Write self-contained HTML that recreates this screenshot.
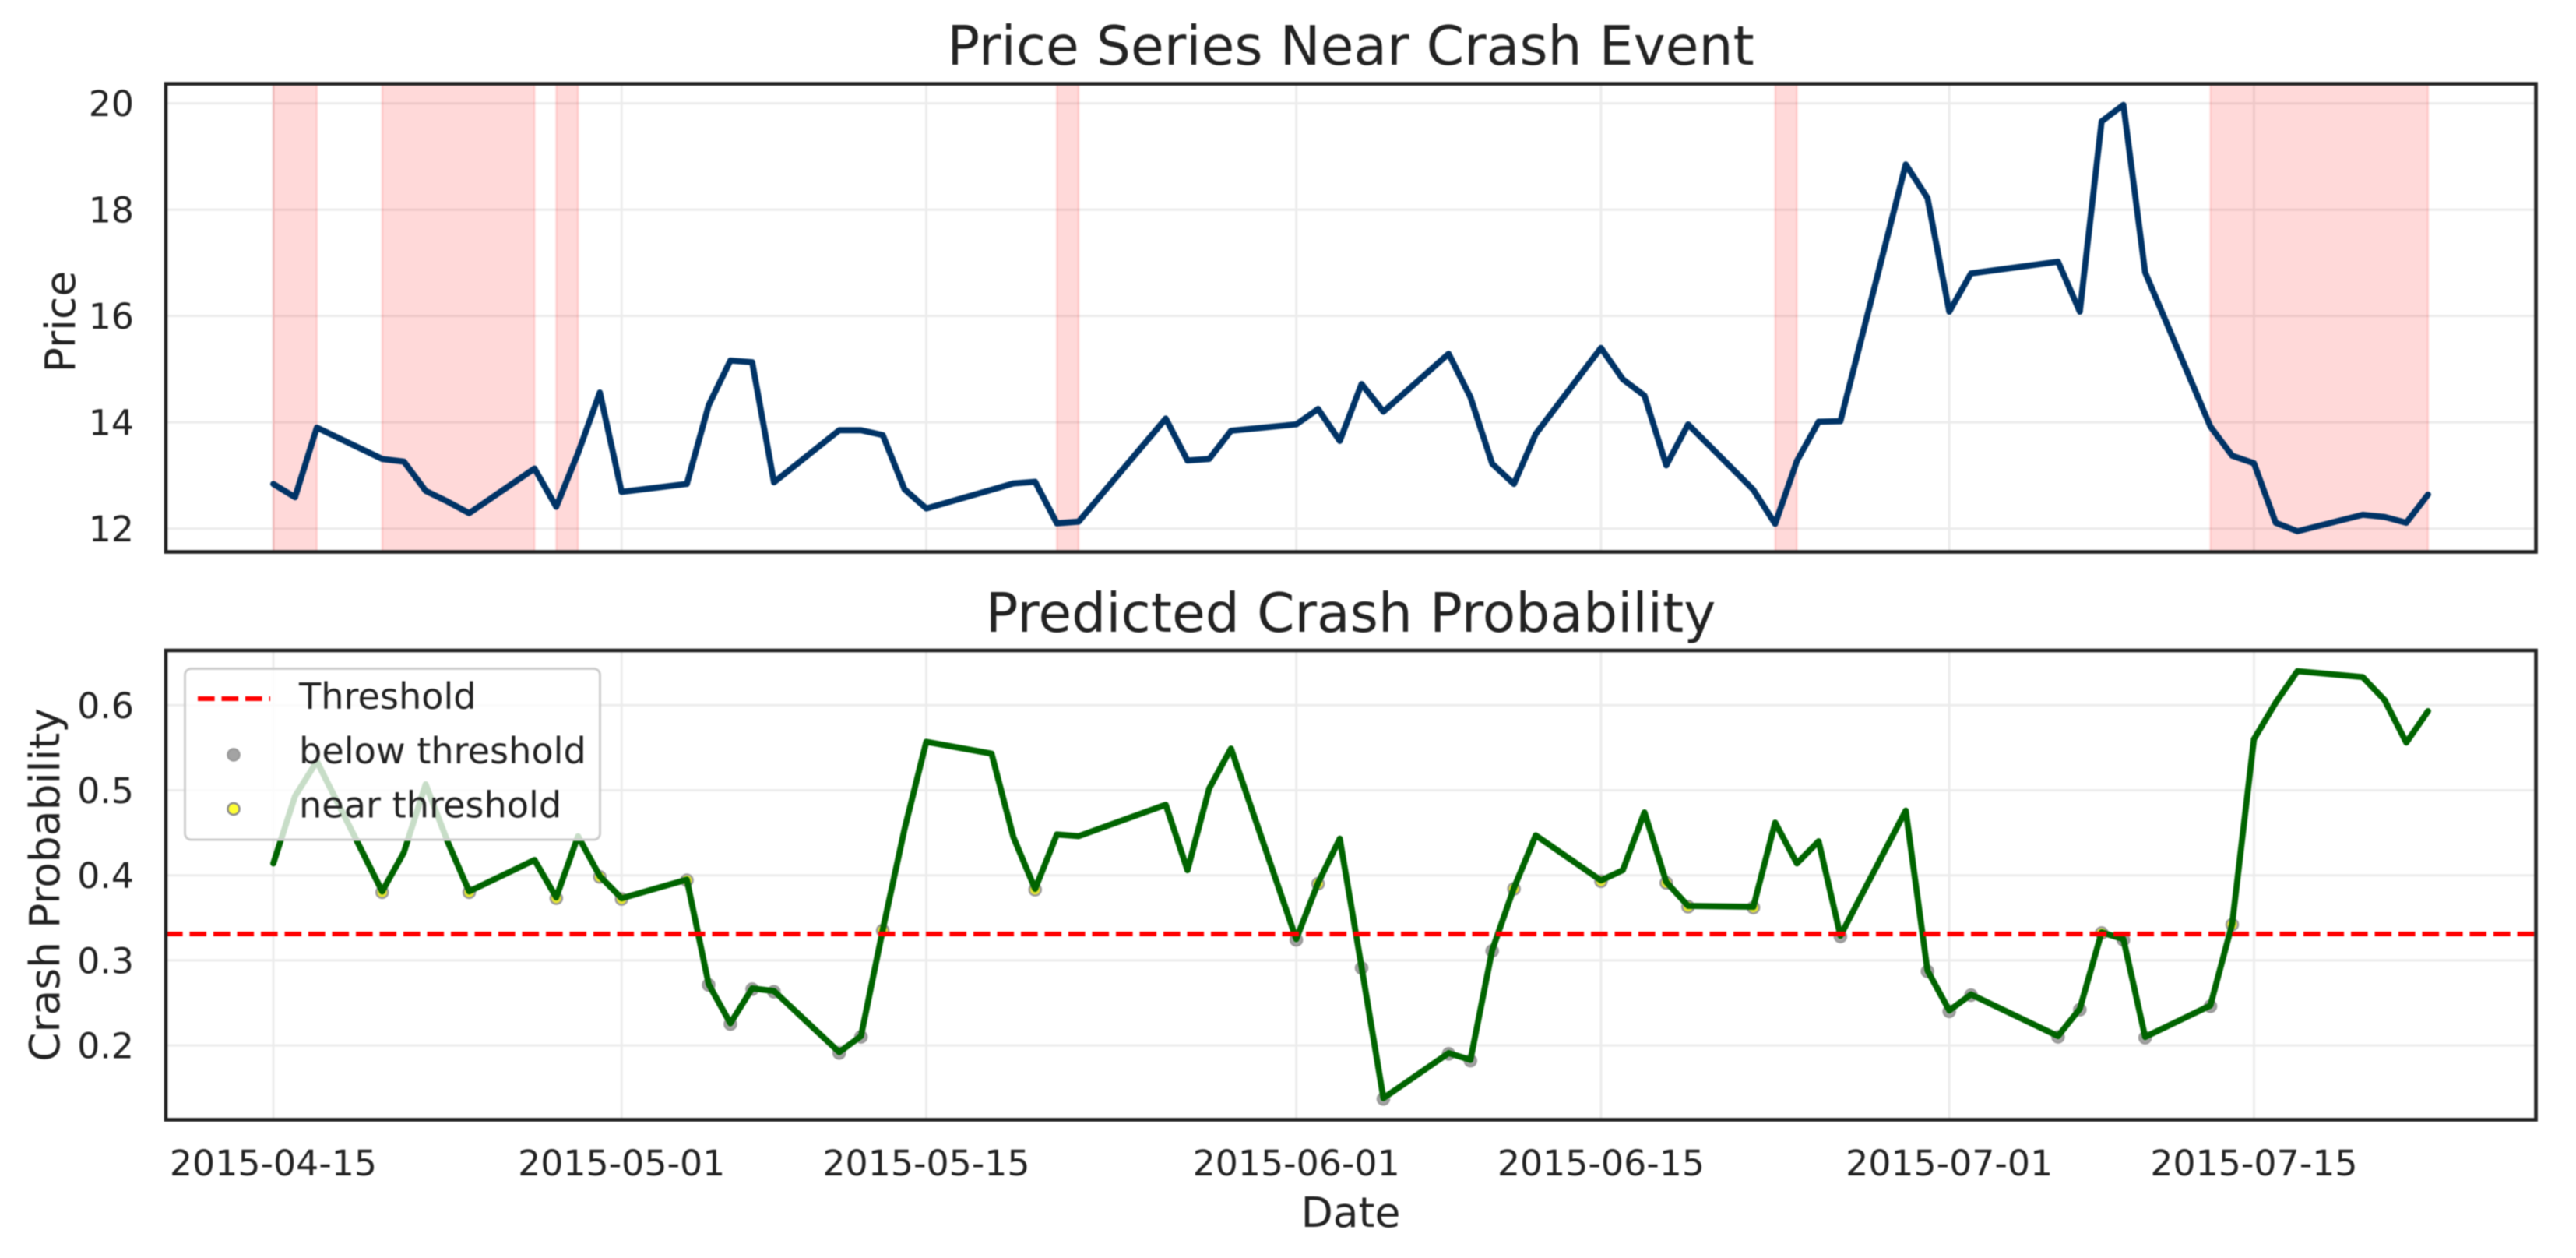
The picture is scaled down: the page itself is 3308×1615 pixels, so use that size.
<!DOCTYPE html>
<html lang="en">
<head>
<meta charset="utf-8">
<title>Price Series Near Crash Event</title>
<style>
html,body{margin:0;padding:0;background:#fff;}
body{width:3308px;height:1615px;overflow:hidden;}
svg{display:block;filter:blur(0.9px);}
text{font-family:"DejaVu Sans","Liberation Sans",sans-serif;fill:#222222;}
.tick{font-size:45.8px;}
.legend-text{font-size:46.2px;}
.label{font-size:53.5px;}
.title{font-size:69.5px;}
</style>
</head>
<body>
<svg id="chart" xmlns="http://www.w3.org/2000/svg" width="3308" height="1615" viewBox="0 0 3308 1615">
  <rect x="0" y="0" width="3308" height="1615" fill="#ffffff"/>
  <g id="price-panel"></g>
  <g id="prob-panel"></g>
  <text class="title" x="1734.5" y="83" text-anchor="middle">Price Series Near Crash Event</text>
  <text class="title" x="1734.5" y="811" text-anchor="middle">Predicted Crash Probability</text>
  <text class="label" transform="translate(96,413) rotate(-90)" text-anchor="middle">Price</text>
  <text class="label" transform="translate(76,1136) rotate(-90)" text-anchor="middle">Crash Probability</text>
  <text class="label" x="1734.5" y="1575" text-anchor="middle">Date</text>
</svg>
<script>
const dates = [
  '2015-04-15','2015-04-16','2015-04-17',
  '2015-04-20','2015-04-21','2015-04-22','2015-04-23','2015-04-24',
  '2015-04-27','2015-04-28','2015-04-29','2015-04-30','2015-05-01',
  '2015-05-04','2015-05-05','2015-05-06','2015-05-07','2015-05-08',
  '2015-05-11','2015-05-12','2015-05-13','2015-05-14','2015-05-15',
  '2015-05-18','2015-05-19','2015-05-20','2015-05-21','2015-05-22',
  '2015-05-26','2015-05-27','2015-05-28','2015-05-29',
  '2015-06-01','2015-06-02','2015-06-03','2015-06-04','2015-06-05',
  '2015-06-08','2015-06-09','2015-06-10','2015-06-11','2015-06-12',
  '2015-06-15','2015-06-16','2015-06-17','2015-06-18','2015-06-19',
  '2015-06-22','2015-06-23','2015-06-24','2015-06-25','2015-06-26',
  '2015-06-29','2015-06-30','2015-07-01','2015-07-02',
  '2015-07-06','2015-07-07','2015-07-08','2015-07-09','2015-07-10',
  '2015-07-13','2015-07-14','2015-07-15','2015-07-16','2015-07-17',
  '2015-07-20','2015-07-21','2015-07-22','2015-07-23'
];
const prices = [
  12.84,12.59,13.90,
  13.31,13.26,12.71,12.51,12.29,
  13.13,12.41,13.42,14.56,12.69,
  12.84,14.32,15.16,15.13,12.87,
  13.85,13.85,13.76,12.74,12.38,
  12.73,12.85,12.88,12.10,12.13,
  14.07,13.28,13.31,13.84,
  13.96,14.25,13.65,14.72,14.20,
  15.29,14.47,13.22,12.84,13.78,
  15.40,14.81,14.50,13.19,13.96,
  12.73,12.09,13.27,14.01,14.02,
  18.85,18.22,16.08,16.80,
  17.02,16.08,19.66,19.97,16.82,
  13.92,13.37,13.23,12.11,11.95,
  12.26,12.22,12.11,12.64
];
const probabilities = [
  0.414,0.493,0.534,
  0.381,0.427,0.507,0.440,0.381,
  0.418,0.374,0.446,0.399,0.373,
  0.395,0.272,0.226,0.267,0.264,
  0.192,0.211,0.336,0.454,0.557,
  0.543,0.445,0.384,0.448,0.446,
  0.483,0.406,0.502,0.549,
  0.325,0.391,0.443,0.292,0.138,
  0.191,0.183,0.312,0.385,0.447,
  0.394,0.406,0.474,0.392,0.364,
  0.363,0.462,0.414,0.440,0.329,
  0.476,0.288,0.241,0.260,
  0.211,0.243,0.333,0.325,0.210,
  0.247,0.343,0.560,0.603,0.640,
  0.633,0.606,0.556,0.593
];
const crashStarts = ['2015-04-15','2015-04-20','2015-04-28','2015-05-21','2015-06-23','2015-07-13'];
const crashEnds = ['2015-04-17','2015-04-27','2015-04-29','2015-05-22','2015-06-24','2015-07-23'];
const threshold = 0.331;
const nearCeiling = 0.40;
const dateTicks = ['2015-04-15','2015-05-01','2015-05-15','2015-06-01','2015-06-15','2015-07-01','2015-07-15'];
const priceTicks = [12,14,16,18,20];
const probTicks = [0.2,0.3,0.4,0.5,0.6];

const SVG_NS = 'http://www.w3.org/2000/svg';
const plotLeft = 213, plotRight = 3256.5;
const priceTop = 107.6, priceBottom = 708.5;
const probTop = 835, probBottom = 1437.5;
const DAY_MS = 86400000;
const originMs = Date.parse('2015-04-15T00:00:00Z');

function xScale(date) {
  const days = (Date.parse(date + 'T00:00:00Z') - originMs) / DAY_MS;
  return 351 + days * 27.95;
}
function priceScale(v) { return 678.6 - (v - 12) * 68.25; }
function probScale(v) { return 1342.1 - (v - 0.2) * 1092; }
function make(parent, tag, attrs, content) {
  const node = document.createElementNS(SVG_NS, tag);
  for (const k in attrs) node.setAttribute(k, attrs[k]);
  if (content !== undefined) node.textContent = content;
  parent.appendChild(node);
  return node;
}
function linePoints(values, yScale) {
  return values.map(function (v, i) { return xScale(dates[i]).toFixed(1) + ',' + yScale(v).toFixed(1); }).join(' ');
}
const GRID = { stroke: '#ececec', 'stroke-width': 3 };
const SPINE = { fill: 'none', stroke: '#222222', 'stroke-width': 4.6 };
const LINE_WIDTH = 7.8;

/* ---------- price panel ---------- */
const pricePanel = document.getElementById('price-panel');
priceTicks.forEach(function (t) {
  const y = priceScale(t);
  const grid = make(pricePanel, 'line', Object.assign({ x1: plotLeft, x2: plotRight, y1: y, y2: y }, GRID));
  
  
  const label = make(pricePanel, 'text', { class: 'tick', x: 172, y: y + 16.5, 'text-anchor': 'end' }, String(t));
  
  
});
dateTicks.forEach(function (d) {
  const x = xScale(d);
  const grid = make(pricePanel, 'line', Object.assign({ x1: x, x2: x, y1: priceTop, y2: priceBottom }, GRID));
  
  
});
crashStarts.forEach(function (start, i) {
  const x0 = xScale(start), x1 = xScale(crashEnds[i]);
  const band = make(pricePanel, 'rect', {
    x: x0, y: priceTop, width: x1 - x0, height: priceBottom - priceTop,
    fill: '#ff0000', 'fill-opacity': 0.15, stroke: '#ff0000', 'stroke-opacity': 0.1, 'stroke-width': 3
  });
  
  
});
const priceLine = make(pricePanel, 'polyline', {
  points: linePoints(prices, priceScale), fill: 'none', stroke: '#003366',
  'stroke-width': LINE_WIDTH, 'stroke-linejoin': 'round', 'stroke-linecap': 'round'
});


const priceFrame = make(pricePanel, 'rect', Object.assign({ x: plotLeft, y: priceTop, width: plotRight - plotLeft, height: priceBottom - priceTop }, SPINE));



/* ---------- probability panel ---------- */
const probPanel = document.getElementById('prob-panel');
probTicks.forEach(function (t) {
  const y = probScale(t);
  const grid = make(probPanel, 'line', Object.assign({ x1: plotLeft, x2: plotRight, y1: y, y2: y }, GRID));
  
  
  const label = make(probPanel, 'text', { class: 'tick', x: 172, y: y + 16.5, 'text-anchor': 'end' }, t.toFixed(1));
  
  
});
dateTicks.forEach(function (d) {
  const x = xScale(d);
  const grid = make(probPanel, 'line', Object.assign({ x1: x, x2: x, y1: probTop, y2: probBottom }, GRID));
  
  
  const label = make(probPanel, 'text', { class: 'tick', x: x, y: 1509, 'text-anchor': 'middle' }, d);
  
  
});
probabilities.forEach(function (v, i) {
  if (v >= nearCeiling) return;
  const below = v < threshold;
  const dot = make(probPanel, 'circle', {
    cx: xScale(dates[i]), cy: probScale(v) + 1, r: 7.5,
    fill: below ? '#a3a3a3' : '#e4e433', stroke: '#9a9a9a', 'stroke-width': 2.5
  });
  
  
});
const probLine = make(probPanel, 'polyline', {
  points: linePoints(probabilities, probScale), fill: 'none', stroke: '#006400',
  'stroke-width': LINE_WIDTH, 'stroke-linejoin': 'round', 'stroke-linecap': 'round'
});


const thresholdLine = make(probPanel, 'line', {
  x1: plotLeft, x2: plotRight, y1: probScale(threshold), y2: probScale(threshold),
  stroke: '#ff0000', 'stroke-width': 6, 'stroke-dasharray': '21.6 8.9'
});


const probFrame = make(probPanel, 'rect', Object.assign({ x: plotLeft, y: probTop, width: plotRight - plotLeft, height: probBottom - probTop }, SPINE));


</script>
<script>
/* ---------- legend (static geometry, not data) ---------- */
const legendGroup = make(probPanel, 'g', {});


const legendBox = make(legendGroup, 'rect', { x: 237.5, y: 858.5, width: 533, height: 219.5, rx: 8, ry: 8, fill: '#ffffff', 'fill-opacity': 0.78, stroke: '#cccccc', 'stroke-width': 3 });


const legendDash = make(legendGroup, 'line', { x1: 254, x2: 347, y1: 897, y2: 897, stroke: '#ff0000', 'stroke-width': 6, 'stroke-dasharray': '21.6 8.9' });


const legendGray = make(legendGroup, 'circle', { cx: 300, cy: 969, r: 7.5, fill: '#a3a3a3', stroke: '#9a9a9a', 'stroke-width': 2.5 });


const legendYellow = make(legendGroup, 'circle', { cx: 300, cy: 1038.5, r: 7.5, fill: '#ffff33', stroke: '#8a8a8a', 'stroke-width': 2.5 });


const legendText1 = make(legendGroup, 'text', { class: 'legend-text', x: 384, y: 910 }, 'Threshold');


const legendText2 = make(legendGroup, 'text', { class: 'legend-text', x: 384, y: 980 }, 'below threshold');


const legendText3 = make(legendGroup, 'text', { class: 'legend-text', x: 384, y: 1049.5 }, 'near threshold');


</script>
</body>
</html>
